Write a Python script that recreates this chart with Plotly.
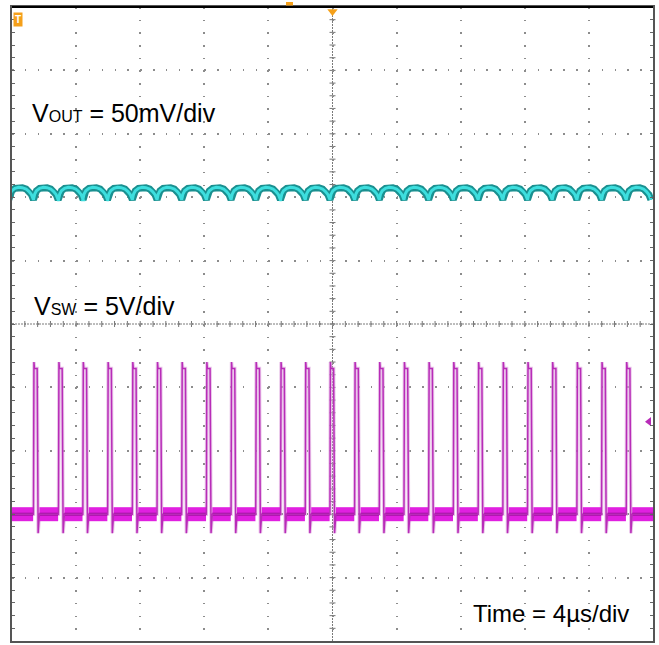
import plotly.graph_objects as go

# ---------------- data ----------------
time_span_us = 40          # 10 div x 4 us/div
trigger_time_us = 20.0
# rising edges of the switch-node pulses (us)
pulse_rise_us = [1.34, 2.90, 4.42, 5.97, 7.51, 9.05, 10.59, 12.13, 13.67, 15.21,
                 16.76, 18.30, 19.84, 21.38, 22.92, 24.46, 26.00, 27.54, 29.09,
                 30.63, 32.17, 33.71, 35.25, 36.79, 38.33]
pulse_width_us = 0.25
vsw_low_div = -3.0
vsw_high_div = -0.70
vsw_spike_div = -0.60
vsw_undershoot_div = -3.30
vsw_trigger_div = -1.54
# one output-ripple period, phase (fraction of period) vs level (div)
ripple_phase = [0.0, 0.05, 0.12, 0.25, 0.40, 0.55, 0.70, 0.82, 0.92, 1.0]
ripple_level = [1.96, 2.05, 2.10, 2.14, 2.155, 2.15, 2.13, 2.09, 2.04, 1.96]
ripple_period_us = 1.54

# ---------------- build traces ----------------
vx, vy = [], []
starts = [pulse_rise_us[0] - ripple_period_us] + pulse_rise_us
for t0 in starts:
    for ph, lv in zip(ripple_phase, ripple_level):
        vx.append(t0 + ph * ripple_period_us)
        vy.append(lv)

sx, sy = [0.0], [vsw_low_div]
bx, by = [], []
prev_end = 0.0
for t0 in pulse_rise_us:
    bx += [prev_end, t0 - 0.02, None]
    by += [vsw_low_div, vsw_low_div, None]
    sx += [t0 - 0.02, t0, t0 + 0.03, t0 + 0.06, t0 + pulse_width_us - 0.02,
           t0 + pulse_width_us, t0 + pulse_width_us + 0.04, t0 + pulse_width_us + 0.12]
    sy += [vsw_low_div, vsw_low_div, vsw_spike_div, vsw_high_div, vsw_high_div,
           vsw_low_div, vsw_undershoot_div, vsw_low_div]
    prev_end = t0 + pulse_width_us + 0.12
bx += [prev_end, time_span_us]
by += [vsw_low_div, vsw_low_div]
sx.append(time_span_us)
sy.append(vsw_low_div)

fig = go.Figure()
fig.add_trace(go.Scatter(x=vx, y=vy, mode="lines", line=dict(color="#1a9090", width=7),
                         hoverinfo="skip"))
fig.add_trace(go.Scatter(x=vx, y=vy, mode="lines", line=dict(color="#3ddede", width=3),
                         hoverinfo="skip"))
fig.add_trace(go.Scatter(x=sx, y=sy, mode="lines", line=dict(color="rgba(220,160,220,0.6)", width=3.5),
                         hoverinfo="skip"))
fig.add_trace(go.Scatter(x=bx, y=by, mode="lines", line=dict(color="#e020e0", width=14),
                         hoverinfo="skip"))
fig.add_trace(go.Scatter(x=bx, y=by, mode="lines", line=dict(color="#a010a0", width=3),
                         hoverinfo="skip"))
fig.add_trace(go.Scatter(x=sx, y=sy, mode="lines", line=dict(color="#b82cb8", width=1.5),
                         hoverinfo="skip"))
fig.add_trace(go.Scatter(x=[trigger_time_us], y=[4.93], mode="markers", cliponaxis=False,
                         marker=dict(symbol="triangle-down", size=9, color="#f5a01a"),
                         hoverinfo="skip"))
fig.add_trace(go.Scatter(x=[39.75], y=[vsw_trigger_div], mode="markers", cliponaxis=False,
                         marker=dict(symbol="triangle-left", size=8, color="#b82cb8"),
                         hoverinfo="skip"))

# ---------------- graticule ----------------
W, H = 659, 645
ML, MR, MT, MB = 12, 6, 7, 4
PW, PH = W - ML - MR, H - MT - MB

shapes = []
shapes.append(dict(type="line", xref="x", yref="paper", x0=20, x1=20, y0=0, y1=1,
                   line=dict(color="#7a7a7a", width=1, dash="2px,1px"), layer="below"))
shapes.append(dict(type="line", xref="paper", yref="y", x0=0, x1=1, y0=0, y1=0,
                   line=dict(color="#7a7a7a", width=1, dash="2px,1px"), layer="below"))
for i in range(1, 50):
    xv = i * 0.8
    shapes.append(dict(type="line", xref="x", yref="y", ysizemode="pixel", yanchor=0,
                       x0=xv, x1=xv, y0=-3, y1=3, line=dict(color="#777", width=1), layer="below"))
    yv = -5 + i * 0.2
    shapes.append(dict(type="line", xref="x", yref="y", xsizemode="pixel", xanchor=20,
                       y0=yv, y1=yv, x0=-3, x1=3, line=dict(color="#777", width=1), layer="below"))
shapes.append(dict(type="line", xref="paper", yref="paper", x0=0, x1=1, y0=1, y1=1,
                   line=dict(color="#000", width=2)))
shapes.append(dict(type="rect", xref="paper", yref="paper", x0=(286 - ML) / PW, x1=(293 - ML) / PW,
                   y0=1 + 1.5 / PH, y1=1 + 5 / PH, line=dict(width=0), fillcolor="#f5a01a"))

annotations = [
    dict(text='V<span style="font-size:16px">OUT</span> = 50mV/div', xref="paper", yref="paper",
         x=(30 - ML) / PW, y=(641 - 113) / PH, xanchor="left", yanchor="middle", showarrow=False,
         font=dict(family="Liberation Sans, Arial", size=25, color="#000")),
    dict(text='V<span style="font-size:16px">SW</span> = 5V/div', xref="paper", yref="paper",
         x=(32 - ML) / PW, y=(641 - 306) / PH, xanchor="left", yanchor="middle", showarrow=False,
         font=dict(family="Liberation Sans, Arial", size=25, color="#000")),
    dict(text="Time = 4µs/div", xref="paper", yref="paper",
         x=(631 - ML) / PW, y=(641 - 613) / PH, xanchor="right", yanchor="middle", showarrow=False,
         font=dict(family="Liberation Sans, Arial", size=24, color="#000")),
    dict(text="<b>T</b>", xref="paper", yref="paper", x=0.001, y=(641 - 20) / PH,
         xanchor="left", yanchor="middle", showarrow=False, bgcolor="#f5a01a",
         borderpad=1, font=dict(family="Liberation Sans, Arial", size=10, color="#fff")),
]

fig.update_layout(
    width=W, height=H, margin=dict(l=ML, r=MR, t=MT, b=MB),
    paper_bgcolor="white", plot_bgcolor="white", showlegend=False,
    shapes=shapes, annotations=annotations,
    xaxis=dict(range=[0, time_span_us], dtick=4, tick0=0, showticklabels=False,
               showgrid=True, gridcolor="#8c8c8c", gridwidth=1.5, griddash="1.5px,11.18px",
               zeroline=False, showline=True, linecolor="#555", linewidth=1.5, mirror=True,
               ticks="", fixedrange=True),
    yaxis=dict(range=[-5, 5], dtick=1, tick0=0, showticklabels=False,
               showgrid=True, gridcolor="#8c8c8c", gridwidth=1.5, griddash="1.5px,11.32px",
               zeroline=False, showline=True, linecolor="#555", linewidth=1.5, mirror="allticks",
               ticks="inside", ticklen=3, tickcolor="#666",
               minor=dict(dtick=0.2, ticks="inside", ticklen=3, tickcolor="#666", showgrid=False),
               fixedrange=True),
)

fig.write_html("out.html", config={"displayModeBar": False},
               post_script="document.body.style.margin='0';document.body.style.overflow='hidden';")
